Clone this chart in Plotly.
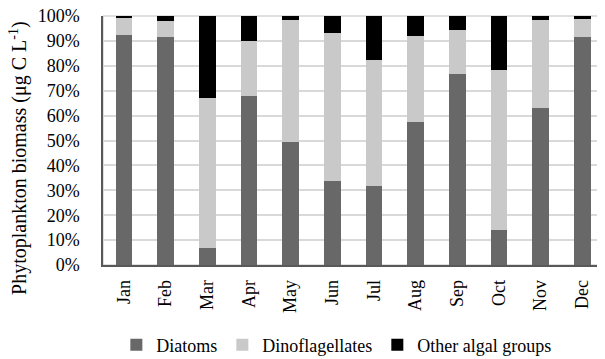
import plotly.graph_objects as go

months = ["Jan", "Feb", "Mar", "Apr", "May", "Jun", "Jul", "Aug", "Sep", "Oct", "Nov", "Dec"]
diatoms = [92.5, 91.6, 7.0, 68.0, 49.4, 33.9, 31.7, 57.5, 76.9, 14.2, 63.1, 91.4]
dinoflagellates = [6.7, 6.3, 60.1, 21.9, 48.9, 59.4, 50.6, 34.3, 17.5, 64.3, 35.2, 7.5]
other_groups = [0.8, 2.1, 32.9, 10.1, 1.7, 6.7, 17.7, 8.2, 5.6, 21.5, 1.7, 1.1]
y_title = "Phytoplankton biomass (μg C L<sup>-1</sup>)"

font_family = "Liberation Serif"

fig = go.Figure()
fig.add_trace(go.Bar(x=months, y=diatoms, name="Diatoms", marker=dict(color="#686868", line=dict(width=0))))
fig.add_trace(go.Bar(x=months, y=dinoflagellates, name="Dinoflagellates", marker=dict(color="#c9c9c9", line=dict(width=0))))
fig.add_trace(go.Bar(x=months, y=other_groups, name="Other algal groups", marker=dict(color="#000000", line=dict(width=0))))

# page body has an 8px margin, so the figure is drawn at (8, 8)
fig.update_layout(
    barmode="stack",
    bargap=0.6,
    width=597,
    height=351,
    margin=dict(l=95, r=2, t=8, b=94, autoexpand=False),
    paper_bgcolor="white",
    plot_bgcolor="white",
    font=dict(family=font_family, size=18, color="#000000"),
    showlegend=True,
    legend=dict(
        orientation="h",
        xref="container", yref="container",
        x=0.55, xanchor="center",
        y=0.04, yanchor="middle",
        font=dict(family=font_family, size=18, color="#000000"),
        itemwidth=30,
        traceorder="normal",
    ),
)
fig.update_xaxes(
    tickangle=-90,
    showline=True, linecolor="#595959", linewidth=1.5,
    ticks="", ticklabelstandoff=6,
    tickfont=dict(family=font_family, size=18),
    showgrid=False, automargin=False,
)
fig.update_yaxes(
    range=[0, 100],
    dtick=10,
    ticksuffix="%",
    showline=True, linecolor="#595959", linewidth=1.5,
    ticks="", ticklabelstandoff=18,
    ticklabeloverflow="allow",
    showgrid=True, gridcolor="#d9d9d9", gridwidth=1.5,
    tickfont=dict(family=font_family, size=18),
    zeroline=False, automargin=False,
)
fig.add_annotation(
    text=y_title, textangle=-90,
    xref="paper", yref="paper", x=-0.168, y=0.43,
    xanchor="center", yanchor="middle", showarrow=False,
    font=dict(family=font_family, size=20, color="#000000"),
)
fig.add_shape(type="rect", xref="paper", yref="paper", x0=0, y0=0, x1=1, y1=1,
              line=dict(color="#bfbfbf", width=1), layer="below")

fig.write_html("out.html")
